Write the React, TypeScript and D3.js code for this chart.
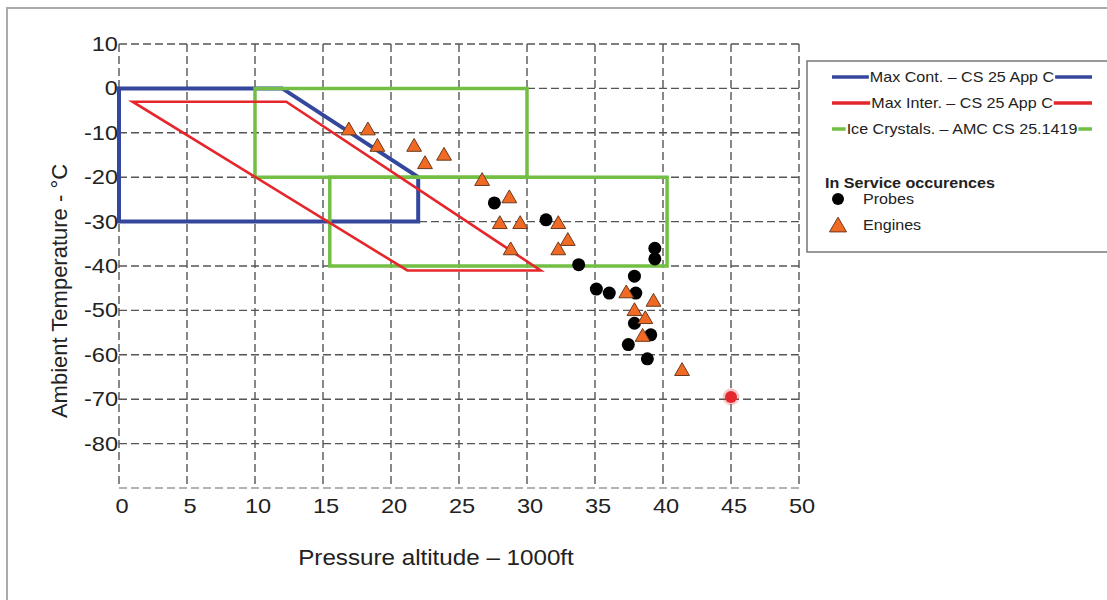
import React, { useEffect, useRef } from 'react'
import * as d3 from 'd3'

// axis ticks
const xTicks = [0, 5, 10, 15, 20, 25, 30, 35, 40, 45, 50]
const yGrid = [10, 0, -10, -20, -30, -40, -50, -60, -70, -80, -90]
const yLabels = [10, 0, -10, -20, -30, -40, -50, -60, -70, -80]

// envelopes [altitude (1000ft), temperature (°C)]
const maxContEnvelope = [[0, 0], [12, 0], [22, -20], [22, -30], [0, -30]]
const maxInterEnvelope = [[1, -3], [12.3, -3], [31, -41], [21.2, -41]]
const iceCrystalsUpper = [[10, 0], [30, 0], [30, -20], [10, -20]]
const iceCrystalsLower = [[15.5, -20], [40.3, -20], [40.3, -40], [15.5, -40]]

// in service occurences
const probes = [
  [27.6, -25.8], [31.4, -29.6], [33.8, -39.7], [39.4, -36], [39.4, -38.4],
  [37.9, -42.3], [35.1, -45.2], [36.05, -46.1], [38.0, -46.1], [37.9, -52.9],
  [39.1, -55.5], [37.45, -57.7], [38.85, -60.9]
]
const engines = [
  [16.9, -9.5], [18.3, -9.5], [19.0, -13.2], [21.7, -13.2], [22.5, -17.1],
  [23.9, -15.2], [26.7, -20.9], [28.7, -24.8], [28.0, -30.6], [29.5, -30.6],
  [32.3, -30.6], [33.0, -34.4], [32.3, -36.5], [28.8, -36.5], [37.3, -46.2],
  [39.3, -48.1], [37.9, -50.2], [38.7, -52], [38.5, -56], [41.4, -63.7]
]
const redPoint = [[45, -69.5]]

const envelopeLabels = [
  'Max Cont. – CS 25 App C',
  'Max Inter. – CS 25 App C',
  'Ice Crystals. – AMC CS 25.1419'
]

const BLUE = '#34479c'
const RED = '#e5262b'
const GREEN = '#72bf44'
const ORANGE = '#f06a24'
const FONT = 'Liberation Sans, Arial, Helvetica, sans-serif'

export default function App() {
  const ref = useRef<SVGSVGElement>(null)

  useEffect(() => {
    const svg = d3.select(ref.current)
    svg.selectAll('*').remove()

    const x = d3.scaleLinear().domain([0, 50]).range([119, 799])
    const y = d3.scaleLinear().domain([10, -90]).range([44, 488])

    const text = (g: any, px: number, py: number, s: string, o: any = {}) =>
      g.append('text')
        .attr('transform', `translate(${px},${py}) scale(${o.sx ?? 1.15},1)`)
        .attr('text-anchor', o.anchor ?? 'start')
        .attr('font-size', o.size ?? 14)
        .attr('font-weight', o.weight ?? 'normal')
        .attr('font-family', FONT)
        .attr('fill', '#222')
        .text(s)

    // outer frame
    svg.append('rect')
      .attr('x', 7).attr('y', 8).attr('width', 1120).attr('height', 620)
      .attr('fill', 'none').attr('stroke', '#aaa').attr('stroke-width', 2)

    // grid
    const grid = svg.append('g').attr('stroke-dasharray', '8,4').attr('stroke-width', 1.4)
    grid.selectAll('line.v').data(xTicks).join('line')
      .attr('x1', d => x(d)).attr('x2', d => x(d))
      .attr('y1', y(10)).attr('y2', y(-90))
      .attr('stroke', '#555')
    grid.selectAll('line.h').data(yGrid).join('line')
      .attr('x1', x(0)).attr('x2', x(50))
      .attr('y1', d => y(d)).attr('y2', d => y(d))
      .attr('stroke', d => d === -90 ? '#999' : '#555')

    // tick labels
    xTicks.forEach(t => text(svg, x(t) + 3, 513, String(t), { size: 20, anchor: 'middle', sx: 1.18 }))
    yLabels.forEach(t => text(svg, 118, y(t) + 7, String(t), { size: 20, anchor: 'end', sx: 1.18 }))

    // axis titles
    text(svg, 436, 565, 'Pressure altitude – 1000ft', { size: 22, anchor: 'middle', sx: 1.1 })
    svg.append('text')
      .attr('transform', 'translate(67,291) rotate(-90)')
      .attr('text-anchor', 'middle')
      .attr('font-size', 22)
      .attr('font-family', FONT)
      .attr('fill', '#222')
      .text('Ambient Temperature - °C')

    const line = d3.line<number[]>().x(d => x(d[0])).y(d => y(d[1])).curve(d3.curveLinearClosed)

    svg.append('path').datum(maxContEnvelope).attr('d', line)
      .attr('fill', 'none').attr('stroke', BLUE).attr('stroke-width', 4)
    ;[iceCrystalsUpper, iceCrystalsLower].forEach(r =>
      svg.append('path').datum(r).attr('d', line)
        .attr('fill', 'none').attr('stroke', GREEN).attr('stroke-width', 3.5))
    svg.append('path').datum(maxInterEnvelope).attr('d', line)
      .attr('fill', 'none').attr('stroke', RED).attr('stroke-width', 2.6)

    // markers
    svg.selectAll('circle.probe').data(probes).join('circle')
      .attr('cx', d => x(d[0])).attr('cy', d => y(d[1])).attr('r', 6.5)
      .attr('fill', '#000')
    const tri = d3.symbol().type(d3.symbolTriangle).size(95)
    svg.selectAll('path.engine').data(engines).join('path')
      .attr('transform', d => `translate(${x(d[0])},${y(d[1])})`)
      .attr('d', tri)
      .attr('fill', ORANGE).attr('stroke', '#6b3a1e').attr('stroke-width', 1)
    svg.selectAll('circle.glow').data(redPoint).join('circle')
      .attr('cx', d => x(d[0])).attr('cy', d => y(d[1])).attr('r', 8.5)
      .attr('fill', RED).attr('opacity', 0.25)
    svg.selectAll('circle.red').data(redPoint).join('circle')
      .attr('cx', d => x(d[0])).attr('cy', d => y(d[1])).attr('r', 6)
      .attr('fill', RED)

    // legend
    const lg = svg.append('g')
    lg.append('rect').attr('x', 807).attr('y', 61).attr('width', 320).attr('height', 191)
      .attr('fill', '#fff').attr('stroke', '#777').attr('stroke-width', 1.5)
    const colors = [BLUE, RED, GREEN]
    envelopeLabels.forEach((s, i) => {
      const cy = 77 + i * 26
      const t = text(lg, 962, cy + 5, s, { anchor: 'middle' })
      const w = (t.node() as SVGTextElement).getComputedTextLength() * 1.15
      ;[[832, 962 - w / 2 - 1], [962 + w / 2 + 1, 1092]].forEach(([a, b]) =>
        lg.append('line').attr('x1', a).attr('x2', b).attr('y1', cy).attr('y2', cy)
          .attr('stroke', colors[i]).attr('stroke-width', 3.5))
    })
    text(lg, 825, 188, 'In Service occurences', { weight: 'bold' })
    lg.append('circle').attr('cx', 838).attr('cy', 199).attr('r', 6).attr('fill', '#000')
    text(lg, 863, 204, 'Probes')
    lg.append('path').attr('transform', 'translate(838,227)')
      .attr('d', d3.symbol().type(d3.symbolTriangle).size(125))
      .attr('fill', ORANGE).attr('stroke', '#6b3a1e').attr('stroke-width', 1)
    text(lg, 863, 230, 'Engines')
  }, [])

  return (
    <svg ref={ref} width={1107} height={600}
      style={{ position: 'absolute', left: 0, top: 0, background: '#fff' }} />
  )
}
